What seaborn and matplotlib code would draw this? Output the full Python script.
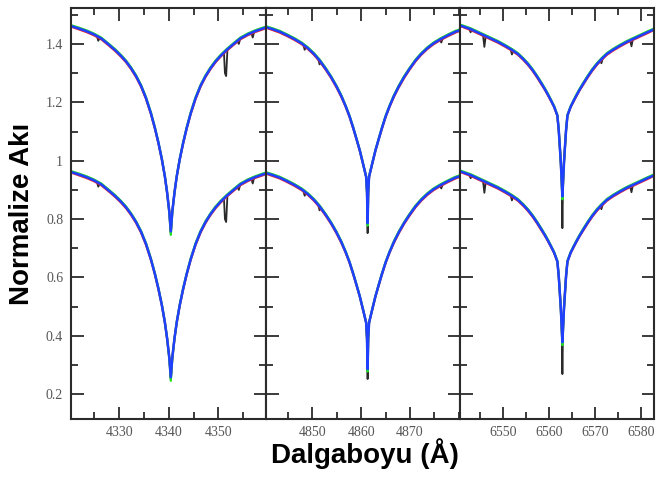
import numpy as np
import pandas as pd
import matplotlib
matplotlib.use("Agg")
import matplotlib.pyplot as plt
from matplotlib.ticker import MultipleLocator
import seaborn as sns

# ---------------- data ----------------
OFFSET = 0.5  # vertical shift of the upper set of spectra

# H-gamma panel
hg_wl = [4320.4, 4321.9, 4323.4, 4324.9, 4326.4, 4327.9, 4329.2, 4330.4, 4331.4, 4332.4,
         4333.4, 4334.4, 4335.4, 4336.4, 4337.2, 4337.9, 4338.6, 4339.2, 4339.65, 4340.1,
         4340.4, 4340.7, 4341.15, 4341.6, 4342.2, 4342.9, 4343.6, 4344.4, 4345.4, 4346.4,
         4347.4, 4348.4, 4349.4, 4350.4, 4351.6, 4352.9, 4354.4, 4355.9, 4357.4, 4358.9,
         4359.5]
hg_blue = [0.961, 0.953, 0.944, 0.933, 0.919, 0.898, 0.879, 0.859, 0.840, 0.817,
           0.790, 0.757, 0.715, 0.662, 0.612, 0.562, 0.505, 0.447, 0.392, 0.325,
           0.258, 0.325, 0.392, 0.447, 0.505, 0.562, 0.612, 0.662, 0.715, 0.757,
           0.790, 0.817, 0.840, 0.859, 0.879, 0.898, 0.919, 0.933, 0.944, 0.953,
           0.956]
hg_red = [0.959, 0.950, 0.941, 0.930, 0.916, 0.895, 0.876, 0.856, 0.837, 0.814,
          0.787, 0.754, 0.712, 0.660, 0.610, 0.560, 0.504, 0.446, 0.391, 0.325,
          0.258, 0.325, 0.391, 0.446, 0.504, 0.560, 0.610, 0.660, 0.712, 0.754,
          0.787, 0.814, 0.837, 0.856, 0.876, 0.895, 0.916, 0.930, 0.941, 0.950,
          0.954]
hg_green = [0.964, 0.956, 0.947, 0.936, 0.922, 0.901, 0.882, 0.862, 0.843, 0.820,
            0.793, 0.760, 0.718, 0.665, 0.614, 0.564, 0.507, 0.448, 0.392, 0.322,
            0.246, 0.322, 0.392, 0.448, 0.507, 0.564, 0.614, 0.665, 0.718, 0.760,
            0.793, 0.820, 0.843, 0.862, 0.882, 0.901, 0.922, 0.936, 0.947, 0.956,
            0.959]
hg_obs_wl = [4320.4, 4321.9, 4323.4, 4324.9, 4325.5, 4325.8, 4326.1, 4326.4, 4327.9, 4329.2,
             4330.4, 4331.4, 4332.4, 4333.4, 4334.4, 4335.4, 4336.4, 4337.2, 4337.9, 4338.6,
             4339.2, 4339.65, 4340.1, 4340.4, 4340.7, 4341.15, 4341.6, 4342.2, 4342.9, 4343.6,
             4344.4, 4345.4, 4346.4, 4347.4, 4348.4, 4349.4, 4350.4, 4351.1, 4351.3, 4351.55,
             4351.8, 4352.9, 4353.8, 4354.1, 4354.4, 4355.9, 4356.6, 4356.9, 4357.2, 4357.4,
             4358.9, 4359.5]
hg_obs = [0.961, 0.953, 0.944, 0.933, 0.927, 0.911, 0.922, 0.919, 0.898, 0.879,
          0.859, 0.840, 0.817, 0.790, 0.757, 0.715, 0.662, 0.612, 0.562, 0.505,
          0.447, 0.392, 0.325, 0.248, 0.325, 0.392, 0.447, 0.505, 0.562, 0.612,
          0.662, 0.715, 0.757, 0.790, 0.817, 0.840, 0.859, 0.872, 0.800, 0.790,
          0.880, 0.898, 0.911, 0.900, 0.919, 0.933, 0.939, 0.922, 0.943, 0.944,
          0.953, 0.956]

# H-beta panel
hb_wl = [4840.4, 4841.8, 4843.3, 4844.8, 4846.3, 4847.8, 4849.1, 4850.3, 4851.5, 4852.7,
         4853.8, 4854.9, 4855.9, 4856.8, 4857.6, 4858.4, 4859.1, 4859.7, 4860.3, 4860.7,
         4861.0, 4861.18, 4861.3, 4861.42, 4861.6, 4861.9, 4862.3, 4862.9, 4863.5, 4864.2,
         4865.0, 4865.8, 4866.7, 4867.7, 4868.8, 4869.9, 4871.1, 4872.3, 4873.5, 4874.8,
         4876.3, 4877.8, 4879.3, 4880.2]
hb_blue = [0.958, 0.951, 0.942, 0.930, 0.917, 0.902, 0.885, 0.866, 0.843, 0.815,
           0.787, 0.755, 0.722, 0.687, 0.652, 0.610, 0.570, 0.535, 0.494, 0.466,
           0.445, 0.390, 0.286, 0.390, 0.445, 0.466, 0.494, 0.535, 0.570, 0.610,
           0.652, 0.687, 0.722, 0.755, 0.787, 0.815, 0.843, 0.866, 0.885, 0.902,
           0.917, 0.930, 0.942, 0.947]
hb_red = [0.956, 0.948, 0.939, 0.927, 0.914, 0.899, 0.882, 0.863, 0.840, 0.812,
          0.784, 0.752, 0.719, 0.685, 0.650, 0.608, 0.569, 0.534, 0.493, 0.466,
          0.445, 0.390, 0.286, 0.390, 0.445, 0.466, 0.493, 0.534, 0.569, 0.608,
          0.650, 0.685, 0.719, 0.752, 0.784, 0.812, 0.840, 0.863, 0.882, 0.899,
          0.914, 0.927, 0.939, 0.945]
hb_green = [0.961, 0.954, 0.945, 0.933, 0.920, 0.905, 0.888, 0.869, 0.846, 0.818,
            0.790, 0.758, 0.725, 0.689, 0.654, 0.612, 0.571, 0.536, 0.495, 0.467,
            0.446, 0.388, 0.278, 0.388, 0.446, 0.467, 0.495, 0.536, 0.571, 0.612,
            0.654, 0.689, 0.725, 0.758, 0.790, 0.818, 0.846, 0.869, 0.888, 0.905,
            0.920, 0.933, 0.945, 0.950]
hb_obs_wl = [4840.4, 4841.8, 4843.3, 4844.8, 4846.3, 4847.8, 4848.1, 4848.4, 4848.7, 4849.1,
             4850.3, 4851.2, 4851.45, 4851.7, 4852.7, 4853.8, 4854.9, 4855.9, 4856.8, 4857.6,
             4858.4, 4859.1, 4859.7, 4860.3, 4860.7, 4861.0, 4861.18, 4861.3, 4861.42, 4861.6,
             4861.9, 4862.3, 4862.9, 4863.5, 4864.2, 4865.0, 4865.8, 4866.7, 4867.7, 4868.8,
             4869.9, 4871.1, 4872.3, 4873.5, 4874.8, 4876.1, 4876.4, 4876.7, 4877.8, 4879.3,
             4880.2]
hb_obs = [0.958, 0.951, 0.942, 0.930, 0.917, 0.902, 0.898, 0.880, 0.892, 0.885,
          0.866, 0.847, 0.830, 0.837, 0.815, 0.787, 0.755, 0.722, 0.687, 0.652,
          0.610, 0.570, 0.535, 0.494, 0.466, 0.445, 0.390, 0.252, 0.390, 0.445,
          0.466, 0.494, 0.535, 0.570, 0.610, 0.652, 0.687, 0.722, 0.755, 0.787,
          0.815, 0.843, 0.866, 0.885, 0.902, 0.915, 0.905, 0.919, 0.930, 0.942,
          0.947]

# H-alpha panel
ha_wl = [6540.5, 6542.85, 6544.35, 6545.85, 6547.35, 6548.85, 6550.35, 6551.85, 6553.15, 6554.35,
         6555.35, 6556.35, 6557.35, 6558.35, 6559.15, 6559.85, 6560.45, 6561.05, 6561.75, 6562.05,
         6562.3, 6562.5, 6562.7, 6562.85, 6563.0, 6563.2, 6563.4, 6563.65, 6563.95, 6564.65,
         6565.25, 6565.85, 6566.55, 6567.35, 6568.35, 6569.35, 6570.35, 6571.35, 6572.55, 6573.85,
         6575.35, 6576.85, 6578.35, 6579.85, 6581.35, 6582.8]
ha_blue = [0.964, 0.951, 0.940, 0.929, 0.918, 0.907, 0.894, 0.880, 0.866, 0.848,
           0.831, 0.811, 0.788, 0.763, 0.742, 0.722, 0.704, 0.685, 0.655, 0.605,
           0.545, 0.495, 0.430, 0.378, 0.430, 0.495, 0.545, 0.605, 0.655, 0.685,
           0.704, 0.722, 0.742, 0.763, 0.788, 0.811, 0.831, 0.848, 0.866, 0.880,
           0.894, 0.907, 0.918, 0.929, 0.940, 0.950]
ha_red = [0.962, 0.948, 0.937, 0.926, 0.915, 0.904, 0.891, 0.877, 0.863, 0.845,
          0.828, 0.808, 0.785, 0.760, 0.740, 0.720, 0.702, 0.684, 0.654, 0.605,
          0.545, 0.495, 0.430, 0.378, 0.430, 0.495, 0.545, 0.605, 0.654, 0.684,
          0.702, 0.720, 0.740, 0.760, 0.785, 0.808, 0.828, 0.845, 0.863, 0.877,
          0.891, 0.904, 0.915, 0.926, 0.937, 0.948]
ha_green = [0.967, 0.954, 0.943, 0.932, 0.921, 0.910, 0.897, 0.883, 0.869, 0.851,
            0.834, 0.814, 0.791, 0.766, 0.745, 0.725, 0.706, 0.687, 0.657, 0.606,
            0.545, 0.494, 0.425, 0.368, 0.425, 0.494, 0.545, 0.606, 0.657, 0.687,
            0.706, 0.725, 0.745, 0.766, 0.791, 0.814, 0.834, 0.851, 0.869, 0.883,
            0.897, 0.910, 0.921, 0.932, 0.943, 0.953]
ha_obs_wl = [6540.5, 6542.55, 6542.85, 6543.15, 6544.35, 6545.55, 6545.85, 6546.15, 6547.35, 6548.85,
             6550.35, 6551.55, 6551.85, 6552.15, 6553.15, 6554.35, 6555.35, 6556.35, 6557.35, 6558.35,
             6559.15, 6559.85, 6560.45, 6561.05, 6561.75, 6562.05, 6562.3, 6562.5, 6562.7, 6562.85,
             6563.0, 6563.2, 6563.4, 6563.65, 6563.95, 6564.65, 6565.25, 6565.85, 6566.55, 6567.35,
             6568.35, 6569.35, 6570.35, 6571.05, 6571.35, 6571.65, 6572.55, 6573.85, 6575.35, 6576.85,
             6577.6, 6577.9, 6578.2, 6579.85, 6581.35, 6582.8]
ha_obs = [0.964, 0.952, 0.940, 0.950, 0.940, 0.931, 0.890, 0.927, 0.918, 0.907,
          0.894, 0.883, 0.864, 0.877, 0.866, 0.848, 0.831, 0.811, 0.788, 0.763,
          0.742, 0.722, 0.704, 0.685, 0.655, 0.605, 0.545, 0.495, 0.430, 0.269,
          0.430, 0.495, 0.545, 0.605, 0.655, 0.685, 0.704, 0.722, 0.742, 0.763,
          0.788, 0.811, 0.831, 0.844, 0.834, 0.851, 0.866, 0.880, 0.894, 0.907,
          0.913, 0.892, 0.916, 0.929, 0.940, 0.950]

panels = [
    dict(wl=hg_wl, blue=hg_blue, red=hg_red, green=hg_green, owl=hg_obs_wl, obs=hg_obs,
         xlim=(4320.4, 4359.5), major=[4330, 4340, 4350]),
    dict(wl=hb_wl, blue=hb_blue, red=hb_red, green=hb_green, owl=hb_obs_wl, obs=hb_obs,
         xlim=(4840.4, 4880.2), major=[4850, 4860, 4870]),
    dict(wl=ha_wl, blue=ha_blue, red=ha_red, green=ha_green, owl=ha_obs_wl, obs=ha_obs,
         xlim=(6540.5, 6582.8), major=[6550, 6560, 6570, 6580]),
]

y_ticks = [0.2, 0.4, 0.6, 0.8, 1.0, 1.2, 1.4]
y_labels = ["0.2", "0.4", "0.6", "0.8", "1", "1.2", "1.4"]

# ---------------- plotting ----------------
sns.set_theme(style="white")
plt.rcParams['font.family'] = ['Liberation Sans', 'DejaVu Sans']

fig, axes = plt.subplots(1, 3, figsize=(6.57, 4.78), dpi=100, sharey=True)
fig.subplots_adjust(left=0.1088, right=0.9954, top=0.9843, bottom=0.1234, wspace=0)

spine_col = "#2b2b2b"
for ax, p in zip(axes, panels):
    for shift in (0.0, OFFSET):
        sns.lineplot(x=p["owl"], y=np.array(p["obs"]) + shift, ax=ax, color="#2a2a2a",
                     lw=1.3, sort=False, estimator=None)
        sns.lineplot(x=p["wl"], y=np.array(p["red"]) + shift, ax=ax, color="#e8202a",
                     lw=1.6, sort=False, estimator=None)
        sns.lineplot(x=p["wl"], y=np.array(p["green"]) + shift, ax=ax, color="#22e022",
                     lw=1.6, sort=False, estimator=None)
        sns.lineplot(x=p["wl"], y=np.array(p["blue"]) + shift, ax=ax, color="#2040ff",
                     lw=1.8, sort=False, estimator=None)
    ax.set_xlim(*p["xlim"])
    ax.set_ylim(0.115, 1.525)
    ax.set_xticks(p["major"])
    ax.set_xticklabels([str(v) for v in p["major"]], fontfamily="Liberation Serif",
                       fontsize=10, color="#555555")
    ax.xaxis.set_minor_locator(MultipleLocator(5))
    ax.yaxis.set_minor_locator(MultipleLocator(0.1))
    ax.tick_params(which="both", direction="in", top=True, bottom=True, left=True,
                   right=True, color=spine_col, width=1.3)
    ax.tick_params(which="major", length=9)
    ax.tick_params(which="minor", length=5)
    ax.tick_params(axis="x", pad=5)
    ax.tick_params(axis="y", pad=6)
    ax.set_xlabel("")
    ax.set_ylabel("")
    for s in ax.spines.values():
        s.set_color(spine_col)
        s.set_linewidth(1.5)

axes[0].set_yticks(y_ticks)
axes[0].set_yticklabels(y_labels, fontfamily="Liberation Serif", fontsize=10, color="#555555")
for ax in axes[1:]:
    ax.tick_params(labelleft=False)

fig.text(0.556, 0.031, "Dalgaboyu (Å)", ha="center", va="baseline",
         fontsize=20, fontweight="bold", color="black")
fig.text(0.034, 0.552, "Normalize Akı", ha="center", va="center", rotation=90,
         fontsize=20, fontweight="bold", color="black")

fig.savefig("out.png", dpi=100)
